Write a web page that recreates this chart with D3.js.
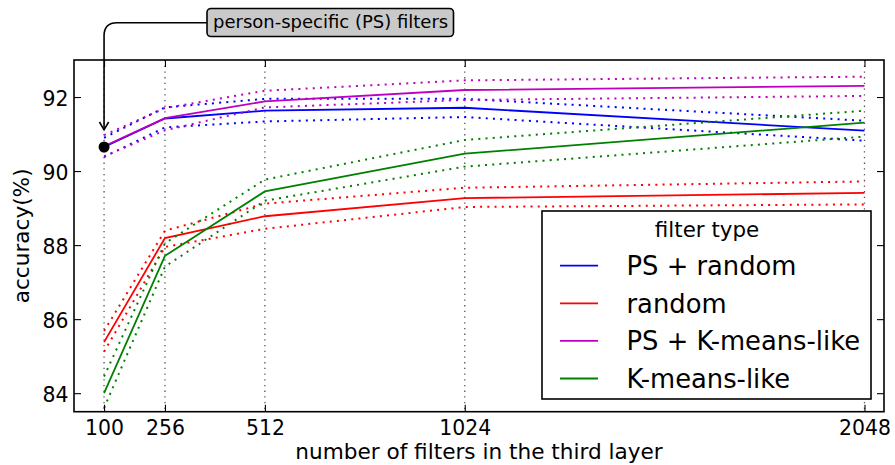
<!DOCTYPE html>
<html>
<head>
<meta charset="utf-8">
<script src="https://cdn.jsdelivr.net/npm/d3@7"></script>
<style>
  body { margin: 0; background: #fff; }
  svg { display: block; font-family: "DejaVu Sans", sans-serif; }
  .tick text { font-family: "DejaVu Sans", sans-serif; fill: #000; }
</style>
</head>
<body>
<svg id="chart" width="895" height="465"></svg>
<script>
// number of filters in the third layer
const filters = [100, 256, 512, 1024, 2048];
const yTicks = [84, 86, 88, 90, 92];

// mean accuracy and the dotted upper / lower bands, per filter type
const psRandom = [90.65, 91.42, 91.63, 91.71, 91.09];
const psRandomHi = [90.9, 91.72, 91.95, 91.95, 91.36];
const psRandomLo = [90.38, 91.18, 91.34, 91.46, 90.82];

const random = [85.38, 88.19, 88.78, 89.27, 89.41];
const randomHi = [85.68, 88.39, 89.12, 89.55, 89.72];
const randomLo = [85.12, 87.95, 88.44, 89.03, 89.1];

const psKmeans = [90.67, 91.43, 91.88, 92.19, 92.3];
const psKmeansHi = [90.97, 91.7, 92.17, 92.45, 92.55];
const psKmeansLo = [90.4, 91.1, 91.72, 91.92, 92.03];

const kmeans = [84.0, 87.71, 89.45, 90.47, 91.31];
const kmeansHi = [84.45, 88.05, 89.77, 90.84, 91.63];
const kmeansLo = [83.6, 87.42, 89.2, 90.12, 90.93];

const seriesNames = ["PS + random", "random", "PS + K-means-like", "K-means-like"];
const seriesColors = ["#0000ff", "#ff0000", "#bf00bf", "#008000"];
const seriesData = [
  [psRandom, psRandomHi, psRandomLo],
  [random, randomHi, randomLo],
  [psKmeans, psKmeansHi, psKmeansLo],
  [kmeans, kmeansHi, kmeansLo],
];

// plot area edges
const plotLeft = 74, plotRight = 884, plotTop = 60, plotBottom = 411.7;

const svg = d3.select("#chart");

const x = d3.scaleLinear().domain([23, 2098]).range([plotLeft, plotRight]);
const y = d3.scaleLinear().domain([83.5, 93]).range([plotBottom, plotTop]);

// vertical dotted grid at the x ticks
svg.append("g")
  .selectAll("line")
  .data(filters)
  .enter()
  .append("line")
  .attr("x1", (d) => x(d))
  .attr("x2", (d) => x(d))
  .attr("y1", plotTop)
  .attr("y2", plotBottom)
  .attr("stroke", "#555")
  .attr("stroke-width", 1.3)
  .attr("stroke-dasharray", "1.3,4.4");

// lines: dotted bands first, then the mean
const line = d3.line()
  .x((d, i) => x(filters[i]))
  .y((d) => y(d));

seriesData.forEach((s, k) => {
  const g = svg.append("g");
  [s[1], s[2]].forEach((band) => {
    g.append("path")
      .attr("d", line(band))
      .attr("fill", "none")
      .attr("stroke", seriesColors[k])
      .attr("stroke-width", 2)
      .attr("stroke-dasharray", "2,5.2");
  });
  g.append("path")
    .attr("d", line(s[0]))
    .attr("fill", "none")
    .attr("stroke", seriesColors[k])
    .attr("stroke-width", 1.8);
});

// axes with inward ticks on all four sides
const xAxis = svg.append("g")
  .attr("transform", `translate(0,${plotBottom})`)
  .call(d3.axisBottom(x).tickValues(filters).tickFormat(d3.format("d"))
    .tickSize(-7).tickPadding(9));
xAxis.selectAll("text").style("font-size", "20.4px");

svg.append("g")
  .attr("transform", `translate(0,${plotTop})`)
  .call(d3.axisTop(x).tickValues(filters).tickSize(-7).tickFormat(""));

const yAxis = svg.append("g")
  .attr("transform", `translate(${plotLeft},0)`)
  .call(d3.axisLeft(y).tickValues(yTicks).tickSize(-7).tickPadding(5.5));
yAxis.selectAll("text").style("font-size", "20.4px").attr("dy", "0.4em");

svg.append("g")
  .attr("transform", `translate(${plotRight},0)`)
  .call(d3.axisRight(y).tickValues(yTicks).tickSize(-7).tickFormat(""));

svg.selectAll(".domain").remove();
svg.selectAll(".tick line").attr("stroke", "#000").attr("stroke-width", 1.1);

svg.append("rect")
  .attr("x", plotLeft)
  .attr("y", plotTop)
  .attr("width", plotRight - plotLeft)
  .attr("height", plotBottom - plotTop)
  .attr("fill", "none")
  .attr("stroke", "#000")
  .attr("stroke-width", 1.6);

// axis titles
svg.append("text")
  .attr("x", (plotLeft + plotRight) / 2)
  .attr("y", 459)
  .attr("text-anchor", "middle")
  .style("font-size", "21.6px")
  .text("number of filters in the third layer");

svg.append("text")
  .attr("transform", `translate(29,${(plotTop + plotBottom) / 2}) rotate(-90)`)
  .attr("text-anchor", "middle")
  .style("font-size", "21.6px")
  .text("accuracy(%)");

// annotation: marker, arrow and label box
svg.append("circle")
  .attr("cx", x(filters[0]))
  .attr("cy", y(psRandom[0]))
  .attr("r", 5.5)
  .attr("fill", "#000");

const ax = x(filters[0]);
svg.append("path")
  .attr("d", `M207,22.7 H${ax + 13} Q${ax},22.7 ${ax},35.7 V129.5`)
  .attr("fill", "none")
  .attr("stroke", "#000")
  .attr("stroke-width", 1.6);
svg.append("path")
  .attr("d", `M${ax - 4.6},122 L${ax},129.8 L${ax + 4.6},122`)
  .attr("fill", "none")
  .attr("stroke", "#000")
  .attr("stroke-width", 1.6);

svg.append("rect")
  .attr("x", 207)
  .attr("y", 8.5)
  .attr("width", 246.5)
  .attr("height", 28)
  .attr("rx", 4)
  .attr("fill", "#c9c9c9")
  .attr("stroke", "#000")
  .attr("stroke-width", 1.6);

svg.append("text")
  .attr("x", 213)
  .attr("y", 28)
  .style("font-size", "18px")
  .text("person-specific (PS) filters");

// legend
const legend = svg.append("g");
legend.append("rect")
  .attr("x", 542)
  .attr("y", 211)
  .attr("width", 329)
  .attr("height", 188)
  .attr("fill", "#fff")
  .attr("stroke", "#000")
  .attr("stroke-width", 1.6);

legend.append("text")
  .attr("x", 707)
  .attr("y", 237.3)
  .attr("text-anchor", "middle")
  .style("font-size", "21.4px")
  .text("filter type");

const rows = legend.selectAll(".row")
  .data(seriesNames)
  .enter()
  .append("g")
  .attr("transform", (d, i) => `translate(0,${i * 37.6})`);

rows.append("line")
  .attr("x1", 560)
  .attr("x2", 598)
  .attr("y1", 265.7)
  .attr("y2", 265.7)
  .attr("stroke", (d, i) => seriesColors[i])
  .attr("stroke-width", 1.8);

rows.append("text")
  .attr("x", 626.5)
  .attr("y", 275)
  .style("font-size", "25.8px")
  .text((d) => d);
</script>
</body>
</html>
